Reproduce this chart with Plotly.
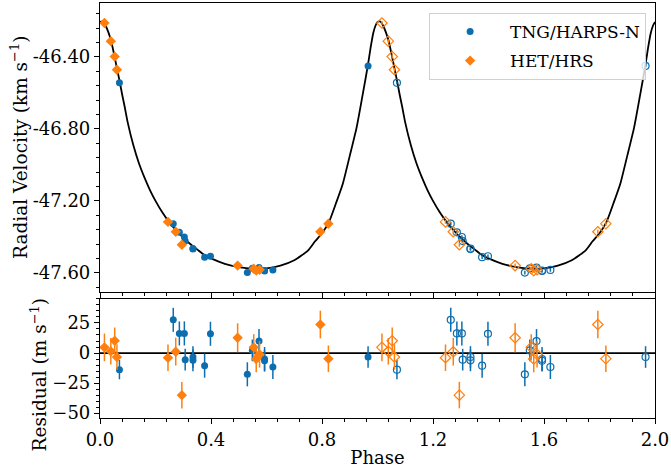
import plotly.graph_objects as go
from plotly.subplots import make_subplots

# TNG/HARPS-N: phase, RV (km/s), residual (m/s), error (m/s)
tng_phase = [0.070, 0.264, 0.286, 0.304, 0.307, 0.335, 0.335, 0.377,
             0.398, 0.531, 0.549, 0.573, 0.593, 0.593, 0.623, 0.966]
tng_rv = [-46.544, -47.327, -47.375, -47.401, -47.424, -47.465, -47.468, -47.513,
          -47.508, -47.599, -47.575, -47.571, -47.588, -47.590, -47.584, -46.450]
tng_res = [-13.8, 27.6, 16.3, 16.3, -5.5, -3.3, -6.1, -10.5,
           16.0, -17.7, 2.2, 9.9, -5.0, -6.4, -11.6, -3.3]
tng_err = [8, 10, 10, 10, 9, 9, 9, 10, 10, 10, 9, 10, 10, 9, 10, 9]

# HET/HRS
het_phase = [0.016, 0.039, 0.053, 0.061, 0.245, 0.273, 0.295,
             0.496, 0.554, 0.563, 0.575, 0.794, 0.823]
het_rv = [-46.211, -46.312, -46.398, -46.471, -47.317, -47.372, -47.444,
          -47.560, -47.578, -47.588, -47.583, -47.372, -47.327]
het_res = [4.7, 1.4, 10.2, -3.3, -3.9, 1.1, -35.0,
           12.7, 4.7, -5.0, -1.1, 23.7, -4.7]
het_err = [11.5, 11, 11, 10.5, 11, 11.5, 11, 12, 11, 11, 11, 11.5, 11]

# orbital model, one period
model_phase = [0.000, 0.010, 0.020, 0.030, 0.040, 0.050, 0.060, 0.070, 0.080,
               0.090, 0.100, 0.120, 0.140, 0.160, 0.180, 0.200, 0.225, 0.250,
               0.275, 0.300, 0.325, 0.350, 0.375, 0.400, 0.450, 0.500, 0.550,
               0.600, 0.650, 0.700, 0.750, 0.775, 0.800, 0.825, 0.850, 0.875,
               0.900, 0.925, 0.950, 0.965, 0.975, 0.985, 0.993, 1.000]
model_rv = [-46.205, -46.203, -46.225, -46.262, -46.310, -46.380, -46.455, -46.530,
            -46.610, -46.685, -46.765, -46.890, -46.990, -47.070, -47.140, -47.200,
            -47.265, -47.320, -47.365, -47.405, -47.440, -47.470, -47.500, -47.520,
            -47.550, -47.568, -47.577, -47.576, -47.560, -47.530, -47.475, -47.425,
            -47.380, -47.318, -47.215, -47.105, -46.950, -46.790, -46.580, -46.450,
            -46.350, -46.265, -46.225, -46.205]

rv_ticks = [-46.4, -46.8, -47.2, -47.6]
rv_ticktext = ["-46.40", "-46.80", "-47.20", "-47.60"]

BLUE = "#0c6eaf"
ORANGE = "#ff7f0e"
FONT = "DejaVu Serif"

fig = make_subplots(rows=2, cols=1, shared_xaxes=True)

curve_x = model_phase + [p + 1 for p in model_phase[1:]]
curve_y = model_rv + model_rv[1:]
fig.add_trace(go.Scatter(x=curve_x, y=curve_y, mode="lines", line=dict(color="black", width=1.8, shape="spline", smoothing=0.6),
                         showlegend=False, hoverinfo="skip"), row=1, col=1)
fig.add_trace(go.Scatter(x=[0, 2], y=[0, 0], mode="lines", line=dict(color="black", width=1.8),
                         showlegend=False, hoverinfo="skip"), row=2, col=1)

sets = [
    ("TNG/HARPS-N", tng_phase, tng_rv, tng_res, tng_err, BLUE, "circle", 7),
    ("HET/HRS", het_phase, het_rv, het_res, het_err, ORANGE, "diamond", 8),
]
for name, ph, rv, res, err, col, sym, sz in sets:
    ph2 = [p + 1 for p in ph]
    err_kms = [e / 1000 for e in err]
    # filled points in first cycle, open ones repeated in the second
    fig.add_trace(go.Scatter(x=ph, y=rv, mode="markers", name=name, legendgroup=name,
                             marker=dict(color=col, symbol=sym, size=sz),
                             error_y=dict(type="data", array=err_kms, color=col, thickness=1.5, width=0)),
                  row=1, col=1)
    fig.add_trace(go.Scatter(x=ph2, y=rv, mode="markers", showlegend=False,
                             marker=dict(color=col, symbol=sym + "-open", size=sz, line=dict(width=1.2)),
                             error_y=dict(type="data", array=err_kms, color=col, thickness=1.5, width=0)),
                  row=1, col=1)
    fig.add_trace(go.Scatter(x=ph, y=res, mode="markers", showlegend=False,
                             marker=dict(color=col, symbol=sym, size=sz),
                             error_y=dict(type="data", array=err, color=col, thickness=1.5, width=0)),
                  row=2, col=1)
    fig.add_trace(go.Scatter(x=ph2, y=res, mode="markers", showlegend=False,
                             marker=dict(color=col, symbol=sym + "-open", size=sz, line=dict(width=1.2)),
                             error_y=dict(type="data", array=err, color=col, thickness=1.5, width=0)),
                  row=2, col=1)

axis_common = dict(showline=True, linecolor="black", linewidth=1.2, mirror=True,
                   ticks="outside", ticklen=5, tickwidth=1.2, tickcolor="black",
                   showgrid=False, zeroline=False)

fig.update_xaxes(range=[0, 2], dtick=0.4, tick0=0, tickformat=".1f",
                 minor=dict(dtick=0.08, tick0=0, ticks="outside", ticklen=3, tickcolor="black"),
                 **axis_common)
fig.update_xaxes(showticklabels=False, row=1, col=1)
fig.update_xaxes(title=dict(text="Phase", standoff=2, font=dict(size=18)), row=2, col=1)

fig.update_yaxes(range=[-47.706, -46.10], tickvals=rv_ticks, ticktext=rv_ticktext,
                 minor=dict(dtick=0.08, tick0=-46.4, ticks="outside", ticklen=3, tickcolor="black"),
                 domain=[0.304, 1.0], row=1, col=1, **axis_common)
fig.update_yaxes(range=[-54, 45], dtick=25, tick0=0,
                 minor=dict(dtick=5, tick0=0, ticks="outside", ticklen=3, tickcolor="black"),
                 domain=[0.0, 0.287], row=2, col=1, **axis_common)

# y titles as annotations so they can sit where the original put them
fig.add_annotation(text="Radial Velocity (km s<sup>−1</sup>)", textangle=-90, xref="paper", yref="paper",
                   x=-0.146, y=0.653, xanchor="center", yanchor="middle", showarrow=False,
                   font=dict(size=18.5))
fig.add_annotation(text="Residual (m s<sup>−1</sup>)", textangle=-90, xref="paper", yref="paper",
                   x=-0.110, y=0.105, xanchor="center", yanchor="middle", showarrow=False,
                   font=dict(size=18.5))

fig.update_layout(
    width=671, height=468,
    margin=dict(l=100, r=16, t=3, b=50),
    plot_bgcolor="white", paper_bgcolor="white",
    font=dict(family=FONT, size=18, color="black"),
    legend=dict(x=0.984, y=0.976, xanchor="right", yanchor="top",
                bgcolor="rgba(255,255,255,0.8)", bordercolor="#d0d0d0", borderwidth=1,
                font=dict(size=17), itemwidth=70, traceorder="grouped", tracegroupgap=4),
    showlegend=True,
)

# drop the page's default body margin so the figure sits at the window corner
fig.write_html("out.html", config={"displayModeBar": False},
               post_script="document.body.style.margin='0px';")
